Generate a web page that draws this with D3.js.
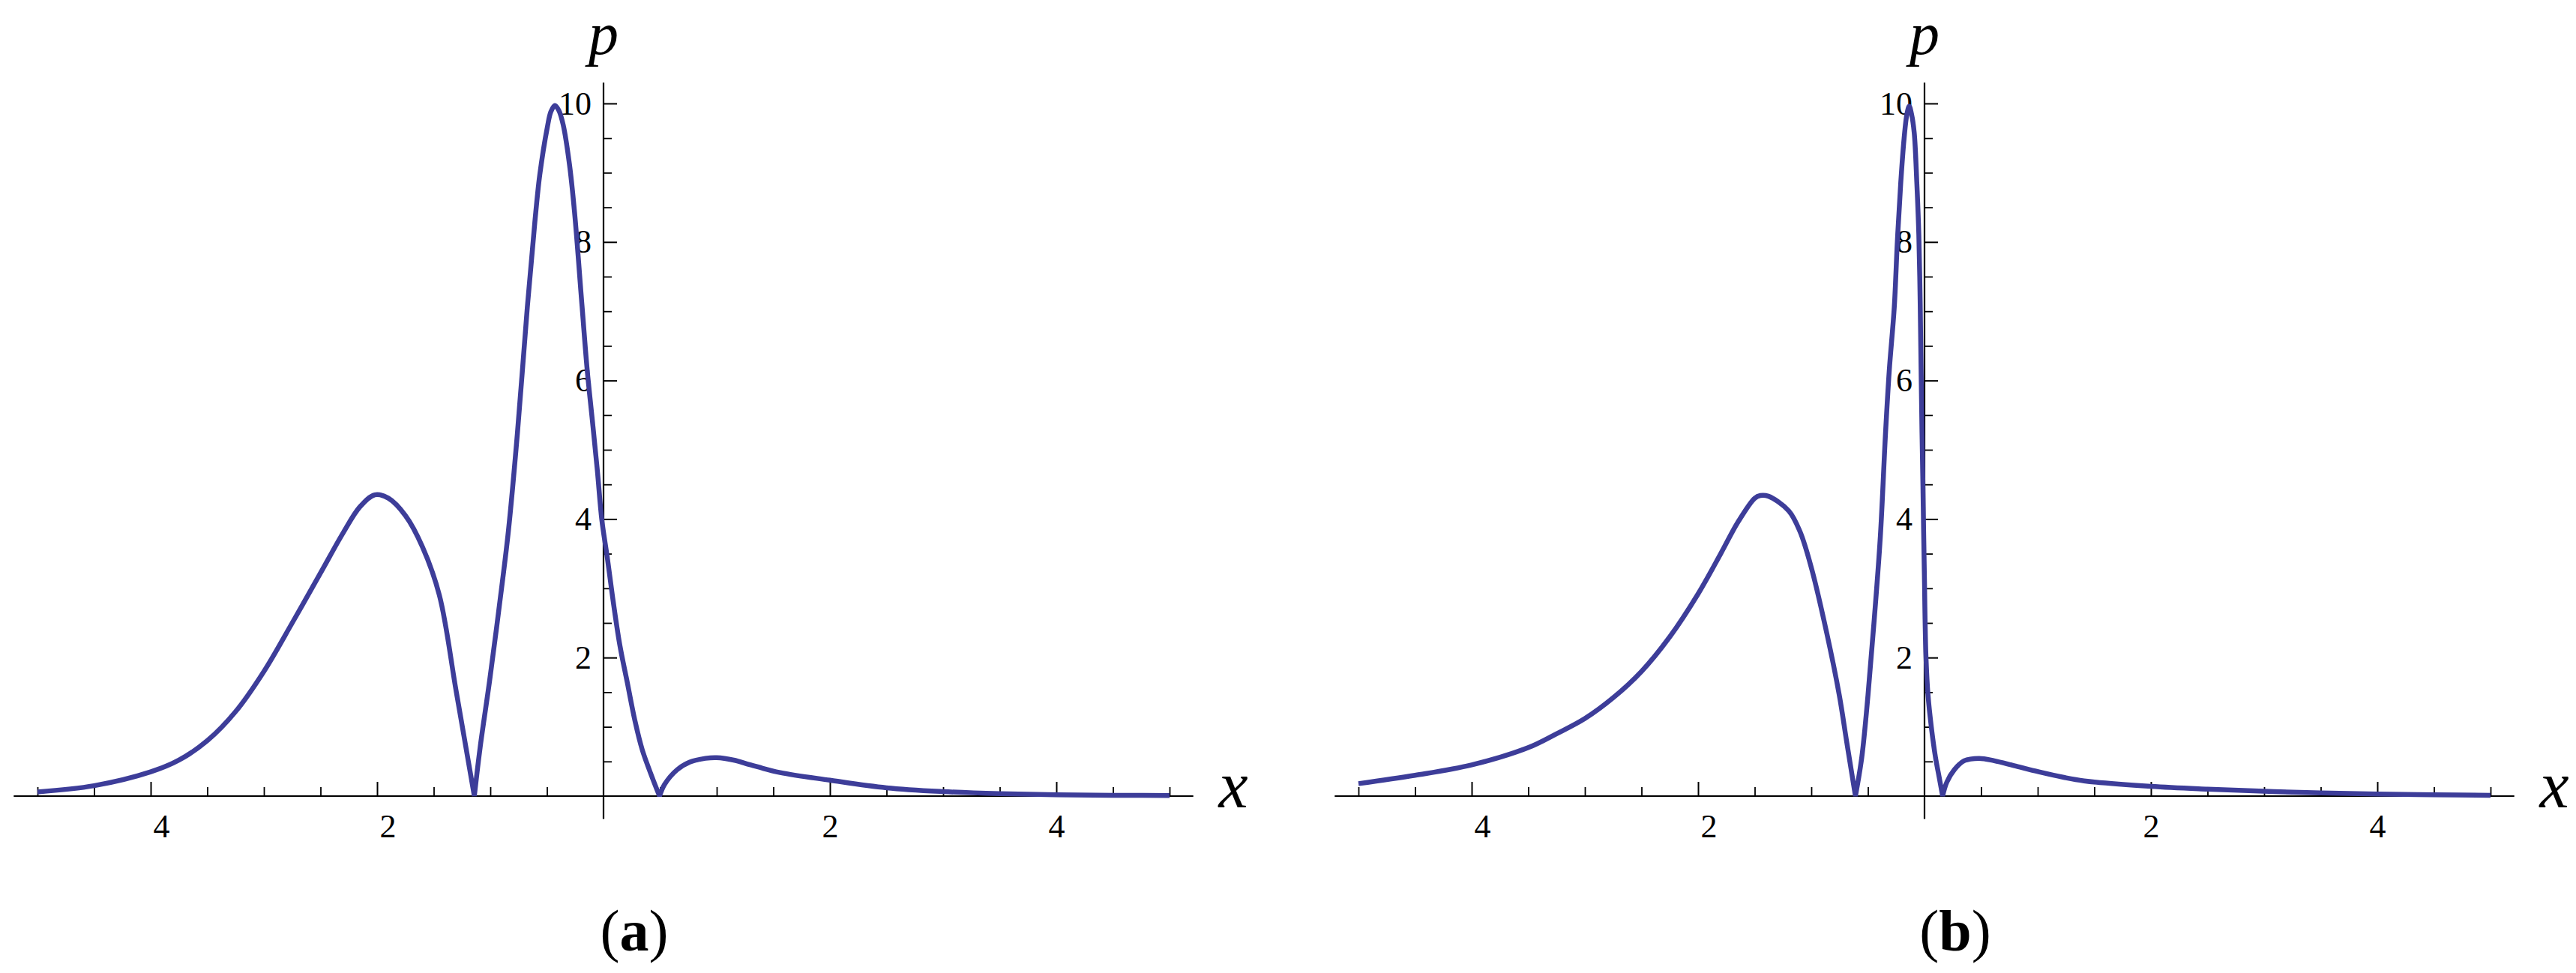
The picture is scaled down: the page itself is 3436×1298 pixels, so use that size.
<!DOCTYPE html>
<html>
<head>
<meta charset="utf-8">
<script src="https://cdn.jsdelivr.net/npm/d3@7"></script>
<style>
  html, body { margin: 0; padding: 0; background: #ffffff; }
  svg { display: block; }
</style>
</head>
<body>
<script>
// ---------- data ----------
const panelA_x = [-5.0, -4.5, -4.0, -3.75, -3.5, -3.25, -3.0, -2.75, -2.5, -2.3, -2.15, -2.02, -1.9, -1.75, -1.6, -1.45, -1.3, -1.141,
  -1.09, -1.005, -0.92, -0.84, -0.76, -0.673, -0.607, -0.563, -0.497, -0.465, -0.43, -0.395, -0.356,
  -0.30, -0.256, -0.19, -0.144, -0.099, -0.055, -0.015, 0.033, 0.077, 0.143, 0.21, 0.276, 0.342, 0.43, 0.495,
  0.54, 0.65, 0.76, 0.9, 1.0, 1.15, 1.3, 1.56, 2.0, 2.5, 3.0, 3.5, 4.0, 4.5, 5.0];
const panelA_p = [0.06, 0.15, 0.35, 0.52, 0.8, 1.22, 1.8, 2.5, 3.22, 3.8, 4.18, 4.35, 4.3, 4.05, 3.6, 2.9, 1.5, 0,
  0.7, 1.68, 2.75, 3.83, 5.25, 7.06, 8.28, 8.97, 9.65, 9.88, 9.97, 9.9, 9.69,
  9.11, 8.43, 7.08, 6.15, 5.43, 4.71, 3.99, 3.45, 2.91, 2.19, 1.64, 1.10, 0.67, 0.27, 0,
  0.17, 0.38, 0.49, 0.545, 0.555, 0.52, 0.45, 0.34, 0.23, 0.12, 0.065, 0.035, 0.02, 0.012, 0.008];

const panelB_x = [-5.0, -4.5, -4.0, -3.5, -3.25, -3.0, -2.75, -2.5, -2.25, -2.0, -1.8, -1.65, -1.5, -1.45, -1.38, -1.2, -1.1, -1.0,
  -0.863, -0.753, -0.687, -0.61, -0.554, -0.499, -0.444, -0.39, -0.344, -0.311, -0.267, -0.24, -0.21, -0.18, -0.155,
  -0.135, -0.115, -0.091, -0.068, -0.05, -0.038, -0.03, -0.022, -0.014, -0.008, 0.0, 0.005, 0.013, 0.031, 0.06, 0.097,
  0.13, 0.16, 0.197, 0.263, 0.35, 0.483, 0.616, 0.79, 1.01, 1.23, 1.41, 2.0, 2.5, 3.0, 3.5, 4.0, 4.5, 5.0];
const panelB_p = [0.18, 0.30, 0.45, 0.70, 0.9, 1.12, 1.42, 1.8, 2.3, 2.92, 3.5, 3.95, 4.3, 4.34, 4.33, 4.12, 3.82, 3.3,
  2.35, 1.46, 0.78, 0, 0.56, 1.46, 2.55, 3.75, 5.25, 6.15, 7.06, 8.0, 8.85, 9.5, 9.85,
  9.96, 9.85, 9.58, 8.86, 8.1, 7.1, 6.15, 5.25, 4.5, 3.85, 3.09, 2.55, 2.01, 1.46, 1.0, 0.56,
  0.27, 0, 0.2, 0.38, 0.51, 0.545, 0.51, 0.44, 0.35, 0.27, 0.22, 0.14, 0.10, 0.07, 0.045, 0.03, 0.02, 0.012];

const xMajorTicks = [-4, -2, 2, 4];
const xMajorLabels = ["4", "2", "2", "4"];
const xMinorTicks = [-5, -4.5, -3.5, -3, -2.5, -1.5, -1, -0.5, 0.5, 1, 1.5, 2.5, 3, 3.5, 4.5, 5];
const yMajorTicks = [2, 4, 6, 8, 10];
const yMajorLabels = ["2", "4", "6", "8", "10"];
const yMinorTicks = [0.5, 1, 1.5, 2.5, 3, 3.5, 4.5, 5, 5.5, 6.5, 7, 7.5, 8.5, 9, 9.5];
const panelCaptions = ["a", "b"];
const axisLabels = ["x", "p"];

// ---------- layout ----------
const W = 3436, H = 1298;
const lineColor = "#3d3d99";
const serif = "'Liberation Serif', 'Times New Roman', Times, serif";

const svg = d3.select("body").append("svg")
  .attr("width", W).attr("height", H)
  .attr("viewBox", `0 0 ${W} ${H}`);
svg.append("rect").attr("width", W).attr("height", H).attr("fill", "#ffffff");

function drawPanel(originX, xs, ps, caption) {
  const x = d3.scaleLinear().domain([-5, 5]).range([originX - 755, originX + 755]);
  const y = d3.scaleLinear().domain([0, 10]).range([1062, 138]);
  const g = svg.append("g");

  // axis lines
  g.append("line").attr("x1", x(-5.21)).attr("x2", x(5.21)).attr("y1", y(0)).attr("y2", y(0))
    .attr("stroke", "#000").attr("stroke-width", 2.2);
  g.append("line").attr("x1", x(0)).attr("x2", x(0)).attr("y1", y(-0.33)).attr("y2", y(10.3))
    .attr("stroke", "#000").attr("stroke-width", 2.2);

  const xMinor = g.append("g").attr("transform", `translate(0,${y(0)})`)
    .call(d3.axisBottom(x).tickValues(xMinorTicks).tickSizeInner(-12).tickSizeOuter(0).tickFormat(""));
  const xMajor = g.append("g").attr("transform", `translate(0,${y(0)})`)
    .call(d3.axisBottom(x).tickValues(xMajorTicks).tickSizeInner(-19).tickSizeOuter(0).tickPadding(24)
      .tickFormat((d, i) => xMajorLabels[i]));
  const yMinor = g.append("g").attr("transform", `translate(${x(0)},0)`)
    .call(d3.axisLeft(y).tickValues(yMinorTicks).tickSizeInner(-11).tickSizeOuter(0).tickFormat(""));
  const yMajor = g.append("g").attr("transform", `translate(${x(0)},0)`)
    .call(d3.axisLeft(y).tickValues(yMajorTicks).tickSizeInner(-18).tickSizeOuter(0).tickPadding(16)
      .tickFormat((d, i) => yMajorLabels[i]));

  [xMinor, xMajor, yMinor, yMajor].forEach(a => {
    a.select(".domain").remove();
    a.selectAll(".tick line").attr("stroke", "#000").attr("stroke-width", 2);
    a.selectAll("text").attr("fill", "#000")
      .style("font-family", serif).style("font-size", "44px");
  });
  xMinor.selectAll(".tick line").attr("stroke-width", 1.8);
  yMinor.selectAll(".tick line").attr("stroke-width", 1.8);
  // negative labels: the minus glyph is missing in the reference, digits sit to the right
  xMajor.selectAll(".tick text").attr("x", d => d < 0 ? 14 : 0);

  // curve: split at the zeros (cusps) and draw each lobe smoothly
  const pts = xs.map((v, i) => [v, ps[i]]);
  const segments = [];
  let cur = [];
  pts.forEach((p, i) => {
    cur.push(p);
    if (p[1] === 0 && i > 0 && i < pts.length - 1) { segments.push(cur); cur = [p]; }
  });
  segments.push(cur);
  const line = d3.line().x(d => x(d[0])).y(d => y(d[1])).curve(d3.curveCatmullRom.alpha(0.5));
  const dStr = segments.map(s => line(s)).join("");
  g.append("path")
    .attr("fill", "none")
    .attr("stroke", lineColor)
    .attr("stroke-width", 6.5)
    .attr("stroke-linejoin", "miter")
    .attr("d", dStr);

  // axis labels
  g.append("text").attr("x", x(0) + 840).attr("y", 1077).attr("text-anchor", "middle")
    .style("font-family", serif).style("font-style", "italic").style("font-size", "88px")
    .text(axisLabels[0]);
  g.append("text").attr("x", x(0)).attr("y", 72).attr("text-anchor", "middle")
    .style("font-family", serif).style("font-style", "italic").style("font-size", "80px")
    .text(axisLabels[1]);

  // caption
  const cap = g.append("text").attr("x", x(0) + 41).attr("y", 1268).attr("text-anchor", "middle")
    .style("font-family", serif).style("font-size", "78px");
  cap.append("tspan").text("(");
  cap.append("tspan").style("font-weight", "bold").text(caption);
  cap.append("tspan").text(")");
}

drawPanel(805, panelA_x, panelA_p, panelCaptions[0]);
drawPanel(2567, panelB_x, panelB_p, panelCaptions[1]);
</script>
</body>
</html>
